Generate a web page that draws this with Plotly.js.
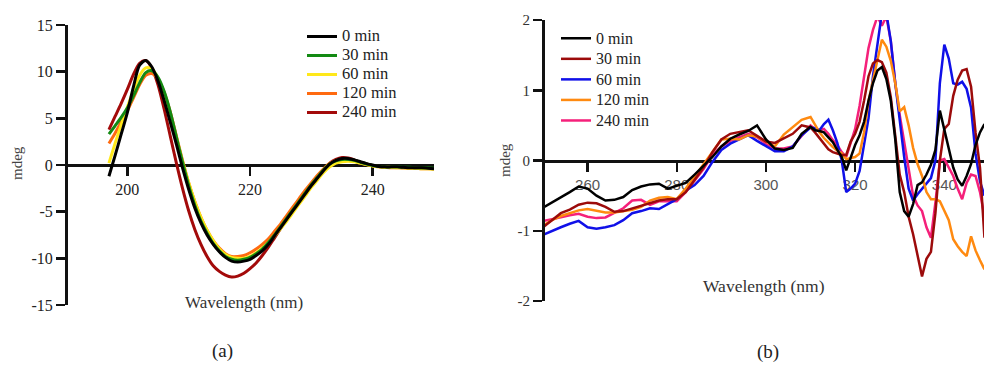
<!DOCTYPE html>
<html>
<head>
<meta charset="utf-8">
<script src="https://cdn.plot.ly/plotly-3.0.1.min.js"></script>
<style>html,body{margin:0;padding:0;background:#fff;}#chart{width:984px;height:365px;}</style>
</head>
<body>
<div id="chart"></div>
<script>
// ---------- Panel (a): far-UV CD ----------
const wlA = [197,198,199,200,201,202,203,204,205,206,207,208,209,210,211,212,213,214,215,216,217,218,219,220,221,222,223,224,225,226,227,228,229,230,231,232,233,234,235,236,237,238,239,240,241,242,243,244,245,246,247,248,249,250];
const a0 = [-1.2,1.0,3.3,5.6,8.4,10.7,11.2,10.5,9.0,6.9,4.6,2.2,-0.3,-2.6,-4.6,-6.2,-7.5,-8.5,-9.3,-9.9,-10.3,-10.4,-10.3,-10.1,-9.7,-9.2,-8.5,-7.6,-6.7,-5.8,-4.9,-4.0,-3.1,-2.2,-1.4,-0.6,0.1,0.5,0.7,0.7,0.55,0.35,0.15,0.0,-0.15,-0.2,-0.2,-0.2,-0.25,-0.3,-0.3,-0.3,-0.35,-0.4];
const a30 = [3.3,4.2,5.1,6.1,7.4,8.8,9.9,10.1,9.4,7.9,5.7,3.0,0.3,-2.2,-4.3,-6.0,-7.3,-8.4,-9.2,-9.8,-10.1,-10.2,-10.1,-9.9,-9.5,-9.0,-8.3,-7.5,-6.6,-5.7,-4.8,-3.9,-3.0,-2.1,-1.3,-0.5,0.1,0.45,0.6,0.6,0.5,0.3,0.1,-0.05,-0.15,-0.2,-0.2,-0.2,-0.25,-0.25,-0.3,-0.3,-0.3,-0.35];
const a60 = [0.2,2.3,4.3,6.2,8.0,9.6,10.4,10.3,9.3,7.6,5.4,2.9,0.4,-1.9,-3.9,-5.6,-7.0,-8.1,-9.0,-9.6,-9.9,-10.0,-10.0,-9.8,-9.4,-8.9,-8.3,-7.6,-6.8,-6.0,-5.1,-4.2,-3.3,-2.4,-1.6,-0.8,-0.2,0.2,0.35,0.4,0.35,0.2,0.05,-0.1,-0.2,-0.25,-0.25,-0.3,-0.3,-0.35,-0.35,-0.4,-0.4,-0.45];
const a120 = [2.3,3.4,4.6,5.8,7.2,8.6,9.6,9.8,9.2,7.8,5.7,3.1,0.5,-1.9,-3.9,-5.6,-7.0,-8.1,-8.9,-9.5,-9.8,-9.8,-9.7,-9.4,-9.0,-8.5,-7.9,-7.1,-6.3,-5.4,-4.5,-3.6,-2.7,-1.9,-1.1,-0.4,0.2,0.5,0.6,0.55,0.4,0.2,0.05,-0.1,-0.2,-0.25,-0.3,-0.3,-0.3,-0.35,-0.35,-0.4,-0.4,-0.4];
const a240 = [3.8,5.2,6.6,8.1,9.7,10.9,11.2,10.4,8.6,6.0,3.1,0.2,-2.5,-4.9,-6.9,-8.5,-9.8,-10.8,-11.4,-11.8,-12.0,-11.9,-11.6,-11.1,-10.5,-9.7,-8.8,-7.8,-6.8,-5.8,-4.8,-3.8,-2.9,-2.0,-1.2,-0.5,0.2,0.6,0.8,0.75,0.55,0.3,0.1,-0.05,-0.15,-0.2,-0.2,-0.25,-0.3,-0.3,-0.3,-0.35,-0.35,-0.4];
const namesA = ['0 min','30 min','60 min','120 min','240 min'];
const colorsA = ['#000000','#138a13','#ffe81a','#ff6a10','#a30a0a'];
const ticksAx = [200,220,240];
const ticksAy = [-15,-10,-5,0,5,10,15];

// ---------- Panel (b): near-UV CD ----------
const wlB = [250,252,254,256,258,260,262,264,266,268,270,272,274,276,278,280,282,284,286,288,290,292,294,296,298,300,302,304,306,308,310,311,312,313,314,315,316,317,318,319,320,321,322,323,324,325,326,327,328,329,330,331,332,333,334,335,336,337,338,339,340,341,342,343,344,345,346,347,348,349];
const b0 = [-0.67,-0.60,-0.52,-0.45,-0.37,-0.40,-0.50,-0.57,-0.56,-0.52,-0.42,-0.37,-0.34,-0.33,-0.40,-0.36,-0.32,-0.20,-0.08,0.05,0.20,0.31,0.37,0.42,0.50,0.30,0.17,0.15,0.18,0.38,0.48,0.43,0.42,0.40,0.33,0.26,0.15,0.05,-0.14,0.05,0.22,0.36,0.55,0.85,1.10,1.28,1.33,1.16,0.85,0.30,-0.45,-0.72,-0.80,-0.62,-0.35,-0.31,-0.20,-0.06,0.15,0.71,0.45,0.15,-0.10,-0.27,-0.36,-0.22,-0.05,0.22,0.40,0.52];
const b30 = [-0.95,-0.85,-0.75,-0.70,-0.63,-0.60,-0.61,-0.66,-0.73,-0.72,-0.68,-0.64,-0.61,-0.57,-0.55,-0.55,-0.45,-0.28,-0.10,0.12,0.30,0.38,0.40,0.43,0.35,0.27,0.25,0.31,0.38,0.50,0.47,0.40,0.32,0.24,0.16,0.12,0.10,0.08,0.08,0.27,0.38,0.55,0.85,1.20,1.38,1.43,1.40,1.25,0.90,0.33,-0.20,-0.45,-0.80,-1.05,-1.35,-1.65,-1.40,-1.30,-0.75,0.00,0.45,0.52,0.92,1.15,1.28,1.30,1.05,0.40,-0.10,-1.10];
const b60 = [-1.06,-1.00,-0.95,-0.90,-0.86,-0.95,-0.97,-0.95,-0.92,-0.85,-0.75,-0.72,-0.68,-0.69,-0.62,-0.55,-0.43,-0.35,-0.22,-0.02,0.15,0.24,0.30,0.36,0.28,0.20,0.13,0.13,0.20,0.36,0.47,0.46,0.43,0.52,0.58,0.43,0.25,0.00,-0.45,-0.40,-0.33,-0.15,0.20,0.60,1.20,1.65,2.10,2.10,1.70,1.10,0.55,0.05,-0.40,-0.57,-0.48,-0.40,-0.33,-0.25,0.00,1.10,1.65,1.45,1.10,1.08,1.12,1.02,0.75,0.10,-0.30,-0.50];
const b120 = [-0.93,-0.85,-0.79,-0.75,-0.71,-0.69,-0.72,-0.74,-0.74,-0.72,-0.70,-0.66,-0.57,-0.53,-0.52,-0.55,-0.40,-0.23,-0.05,0.13,0.30,0.31,0.30,0.36,0.34,0.27,0.20,0.37,0.48,0.58,0.62,0.50,0.40,0.32,0.25,0.19,0.14,0.10,0.02,0.03,0.05,0.10,0.40,0.85,1.15,1.45,1.72,1.62,1.42,1.10,0.70,0.76,0.50,0.18,-0.05,-0.22,-0.45,-0.55,-0.55,-0.58,-0.72,-0.85,-1.12,-1.22,-1.30,-1.36,-1.08,-1.28,-1.42,-1.55];
const b240 = [-0.86,-0.84,-0.81,-0.78,-0.76,-0.80,-0.82,-0.81,-0.75,-0.68,-0.57,-0.56,-0.63,-0.58,-0.58,-0.58,-0.45,-0.28,-0.12,0.08,0.20,0.28,0.33,0.38,0.33,0.24,0.17,0.17,0.20,0.35,0.50,0.45,0.43,0.45,0.38,0.29,0.22,0.12,0.05,0.25,0.45,0.78,1.20,1.60,1.86,2.05,1.92,2.05,1.70,1.10,0.65,0.25,-0.12,-0.50,-0.64,-0.72,-0.95,-1.10,-0.60,0.00,0.02,-0.10,-0.22,-0.40,-0.55,-0.32,-0.20,-0.22,-0.45,-0.80];
const namesB = ['0 min','30 min','60 min','120 min','240 min'];
const colorsB = ['#000000','#9c0b0b','#1010e8','#ff8a10','#f5207a'];
const ticksBx = [260,280,300,320,340];
const ticksBy = [-2,-1,0,1,2];

const serif = 'Liberation Serif, Times New Roman, serif';
const seriesA = [a0,a30,a60,a120,a240];
const seriesB = [b0,b30,b60,b120,b240];
const traces = [];
// draw order panel a: 240,120,60,30,0 (black on top)
[4,3,2,1,0].forEach(i => {
  traces.push({x: wlA, y: seriesA[i], type:'scatter', mode:'lines', name:'<span style="font-size:16.5px">'+namesA[i]+'</span>',
    line:{color: colorsA[i], width:3, shape:'spline', smoothing:0.8}, xaxis:'x', yaxis:'y', legend:'legend', legendrank: i+1});
});
// draw order panel b
[4,2,3,1,0].forEach(i => {
  traces.push({x: wlB, y: seriesB[i], type:'scatter', mode:'lines', name:'<span style="font-size:16px">'+namesB[i]+'</span>',
    line:{color: colorsB[i], width:2.5}, xaxis:'x2', yaxis:'y2', legend:'legend2', legendrank: i+1});
});

const layout = {
  width: 984, height: 365,
  margin: {l:0, r:0, t:0, b:0},
  paper_bgcolor: '#fff', plot_bgcolor: 'rgba(0,0,0,0)',
  showlegend: true,
  font: {family: serif, color:'#222'},
  xaxis: {domain:[66/984, 434/984], range:[190,250], anchor:'free', position: 200/365,
    showline:true, linecolor:'#111', linewidth:3, ticks:'outside', ticklen:9, tickwidth:2.5, tickcolor:'#111',
    tickvals: ticksAx, ticktext: ticksAx.map(String), showgrid:false, zeroline:false,
    tickfont:{family:serif, size:16, color:'#222'}, layer:'below traces'},
  yaxis: {domain:[60/365, 340/365], range:[-15,15], anchor:'free', position: 66/984,
    showline:true, linecolor:'#111', linewidth:3, ticks:'outside', ticklen:9, tickwidth:2.5, tickcolor:'#111',
    tickvals: ticksAy, ticktext: ticksAy.map(String), showgrid:false, zeroline:false,
    tickfont:{family:serif, size:16, color:'#222'}},
  xaxis2: {domain:[543/984, 1], range:[250,348.9], anchor:'free', position: 204.5/365,
    showline:true, linecolor:'#111', linewidth:3, ticks:'outside', ticklen:9, tickwidth:2.5, tickcolor:'#111',
    tickvals: ticksBx, ticktext: ticksBx.map(String), showgrid:false, zeroline:false,
    tickfont:{family:'Liberation Sans, Arial, sans-serif', size:15, color:'#555'}, layer:'below traces'},
  yaxis2: {domain:[64/365, 345/365], range:[-2,2], anchor:'free', position: 543/984,
    showline:true, linecolor:'#111', linewidth:3, ticks:'outside', ticklen:9, tickwidth:2.5, tickcolor:'#111',
    tickvals: ticksBy, ticktext: ticksBy.map(String), showgrid:false, zeroline:false,
    tickfont:{family:serif, size:15, color:'#333'}},
  legend: {x: 302/984, y: 1-22/365, xanchor:'left', yanchor:'top', bgcolor:'rgba(0,0,0,0)',
    font:{family:serif, size:12, color:'#222'}, traceorder:'normal'},
  legend2: {x: 556/984, y: 1-23/365, xanchor:'left', yanchor:'top', bgcolor:'rgba(0,0,0,0)',
    font:{family:serif, size:13.5, color:'#222'}, traceorder:'normal'},
  annotations: [
    {text:'mdeg', xref:'paper', yref:'paper', x:17/984, y:1-163/365, xanchor:'center', yanchor:'middle', showarrow:false, textangle:-90,
      font:{family:serif, size:15, color:'#444'}},
    {text:'Wavelength (nm)', xref:'paper', yref:'paper', x:244/984, y:1-302/365, xanchor:'center', yanchor:'middle', showarrow:false,
      font:{family:serif, size:17, color:'#333'}},
    {text:'(a)', xref:'paper', yref:'paper', x:222/984, y:1-351/365, xanchor:'center', yanchor:'middle', showarrow:false,
      font:{family:serif, size:19, color:'#222'}},
    {text:'mdeg', xref:'paper', yref:'paper', x:505/984, y:1-160/365, xanchor:'center', yanchor:'middle', showarrow:false, textangle:-90,
      font:{family:serif, size:15, color:'#444'}},
    {text:'Wavelength (nm)', xref:'paper', yref:'paper', x:764/984, y:1-286/365, xanchor:'center', yanchor:'middle', showarrow:false,
      font:{family:serif, size:17.5, color:'#333'}},
    {text:'(b)', xref:'paper', yref:'paper', x:768/984, y:1-352/365, xanchor:'center', yanchor:'middle', showarrow:false,
      font:{family:serif, size:19, color:'#222'}}
  ]
};
Plotly.newPlot('chart', traces, layout, {staticPlot:true, displayModeBar:false});
</script>
</body>
</html>
